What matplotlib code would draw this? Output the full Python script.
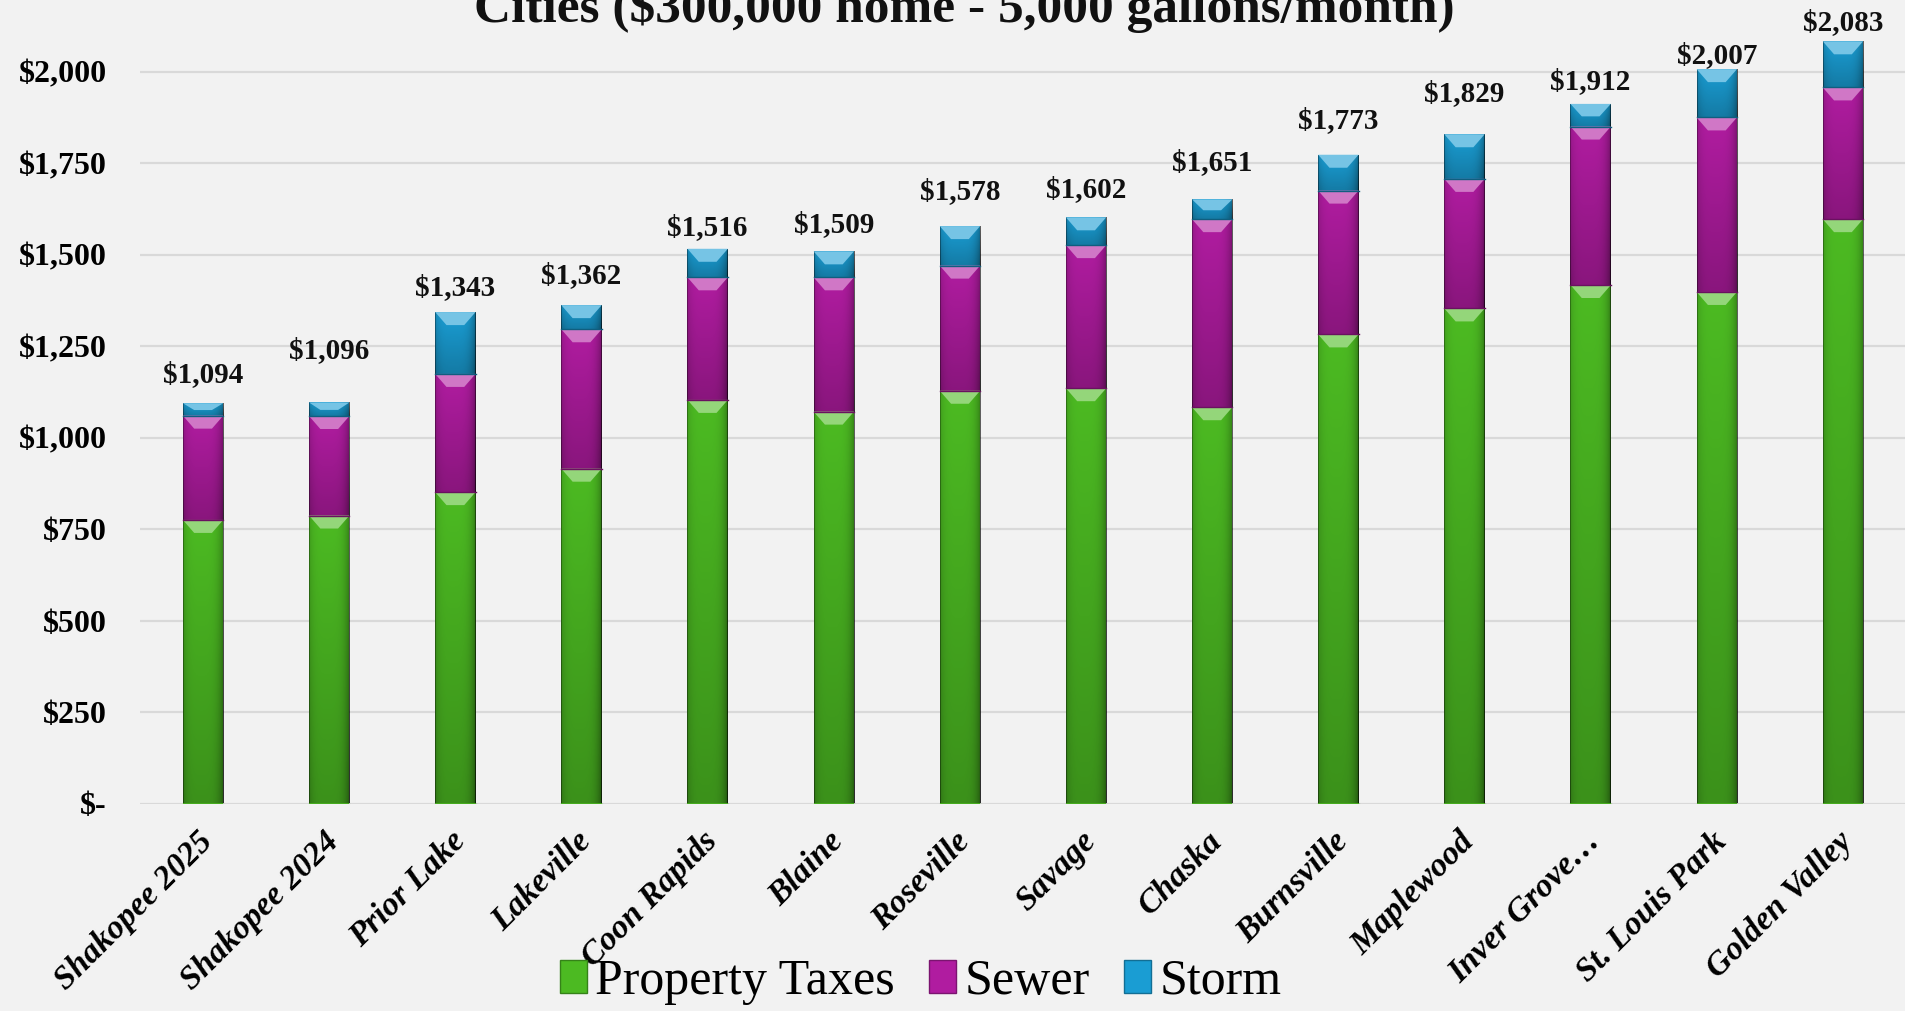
import numpy as np
import matplotlib
matplotlib.use("Agg")
import matplotlib.pyplot as plt
from matplotlib.patches import Polygon, Patch
from matplotlib.transforms import ScaledTranslation
from matplotlib.colors import to_rgb

# ---------------- data ----------------
cities = ["Shakopee 2025", "Shakopee 2024", "Prior Lake", "Lakeville", "Coon Rapids",
          "Blaine", "Roseville", "Savage", "Chaska", "Burnsville", "Maplewood",
          "Inver Grove\u2026", "St. Louis Park", "Golden Valley"]
property_taxes = [775, 787, 851, 915, 1103, 1071, 1128, 1135, 1083, 1282, 1353, 1417, 1398, 1597]
sewer = [285, 272, 323, 381, 335, 367, 342, 391, 514, 393, 354, 433, 477, 360]
storm = [34, 37, 169, 66, 78, 71, 108, 76, 54, 98, 122, 62, 132, 126]
totals = [1094, 1096, 1343, 1362, 1516, 1509, 1578, 1602, 1651, 1773, 1829, 1912, 2007, 2083]
series_names = ["Property Taxes", "Sewer", "Storm"]
yticks = [0, 250, 500, 750, 1000, 1250, 1500, 1750, 2000]
title = "Cities ($300,000 home - 5,000 gallons/month)"

# label gap above each bar (pixels), as placed in the original
label_gap_px = [21, 44, 17, 22, 14, 19, 27, 20, 29, 27, 33, 15, 6, 11]

colors = ["#4CBA22", "#B01CA0", "#1A9DD3"]
bg = "#F2F2F2"

W, H, DPI = 19.06, 10.11, 100
fig = plt.figure(figsize=(W, H), dpi=DPI, facecolor=bg)
ax_pos = [140 / 1906, 207.5 / 1011, 1766 / 1906, 805 / 1011]
ax = fig.add_axes(ax_pos, facecolor=bg)
YMAX = 2200
px_per_unit = ax_pos[3] * H * DPI / YMAX

serif = "Liberation Serif"
x = np.arange(len(cities))
bw = 0.32

series = [property_taxes, sewer, storm]
bottom = np.zeros(len(cities))
for s, col in zip(series, colors):
    vals = np.array(s, dtype=float)
    bc = ax.bar(x, vals, bw, bottom=bottom, color=col, edgecolor="none", zorder=2)
    base = np.array(to_rgb(col))
    light = base + (1 - base) * 0.40
    for rect in bc:
        x0, y0 = rect.get_x(), rect.get_y()
        w, h = rect.get_width(), rect.get_height()
        # shading overlay (edges and lower part darker)
        nx, ny = 40, 60
        u = np.linspace(0, 1, nx)
        v = np.linspace(1, 0, ny)[:, None]  # top row = 1
        ax_edge = 0.30 * (np.abs(u - 0.45) / 0.55) ** 4
        ax_edge[0] += 0.25
        ax_edge[-1] += 0.30
        alpha = np.clip(ax_edge[None, :] + 0.22 * (1 - v), 0, 1)
        img = np.zeros((ny, nx, 4))
        img[..., 3] = alpha
        im = ax.imshow(img, extent=(x0, x0 + w, y0, y0 + h), aspect="auto",
                       interpolation="bilinear", zorder=2.1, origin="upper")
        im.set_clip_path(rect)
        # top bevel
        bh = min(13 / px_per_unit, h * 0.55)
        top = y0 + h
        poly = Polygon([(x0, top), (x0 + w, top), (x0 + w * 0.72, top - bh),
                        (x0 + w * 0.28, top - bh)], closed=True,
                       facecolor=light, edgecolor="none", zorder=2.2)
        ax.add_patch(poly)
        # thin dark separation line at segment bottom
        ax.plot([x0, x0 + w], [y0, y0], color=tuple(base * 0.6), lw=1.0, zorder=2.3)
    bottom = bottom + vals

ax.set_xlim(-0.5, len(cities) - 0.5)
ax.set_ylim(0, YMAX)

# total labels
for xi, tot, gap in zip(x, totals, label_gap_px):
    ax.annotate(f"${tot:,}", (xi, tot), xytext=(0, gap), textcoords="offset pixels",
                ha="center", va="baseline", fontsize=21, fontweight="bold",
                family=serif, color="#111111", zorder=5)

# grid & axes
ax.set_yticks(yticks)
ax.yaxis.grid(True, color="#D9D9D9", lw=1.6, zorder=0)
ax.set_axisbelow(True)
for sp in ax.spines.values():
    sp.set_visible(False)
ax.set_yticklabels(["$-" if t == 0 else f"${t:,}" for t in yticks],
                   fontsize=23, fontweight="bold", family=serif)
ax.tick_params(axis="y", length=0, pad=24)
ax.set_xticks(x)
ax.set_xticklabels(cities, rotation=45, ha="right", rotation_mode="anchor",
                   fontsize=24, fontweight="bold", fontstyle="italic", family=serif)
ax.tick_params(axis="x", length=0, pad=16)
offset = ScaledTranslation(-0.06, 0, fig.dpi_scale_trans)
for lab in ax.get_xticklabels():
    lab.set_transform(lab.get_transform() + offset)
    lab.set_verticalalignment("top")

# title
fig.text(0.506, 1 - 22 / 1011, title, ha="center", va="baseline", fontsize=37,
         fontweight="bold", family=serif, color="#111111")

# legend
handles = [Patch(facecolor=c, edgecolor=tuple(np.array(to_rgb(c)) * 0.7), lw=1) for c in colors]
fig.legend(handles, series_names, loc="center", bbox_to_anchor=(0.483, 0.029),
           ncol=3, frameon=False, prop={"family": serif, "size": 36},
           handlelength=0.54, handleheight=0.66, handletextpad=0.17,
           columnspacing=0.68, borderaxespad=0)

fig.savefig("out.png", dpi=DPI, facecolor=bg)
